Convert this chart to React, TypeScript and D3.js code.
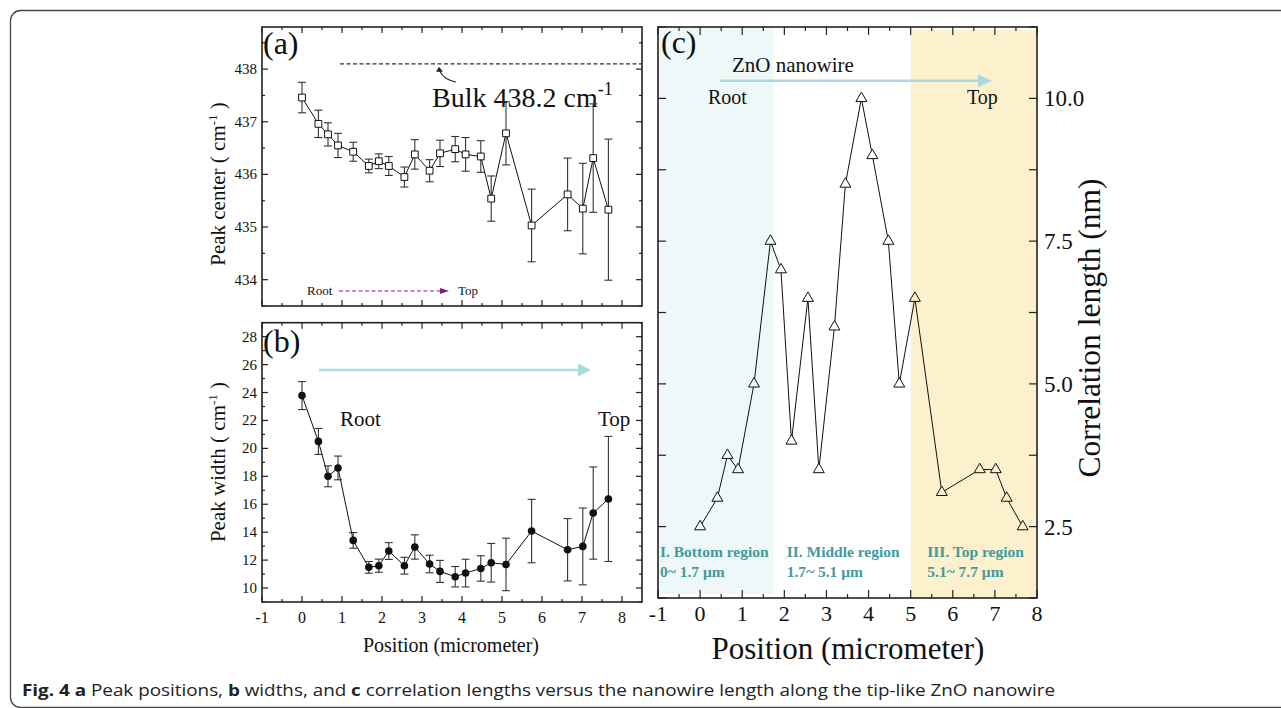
import React, { useEffect, useRef } from "react";
import * as d3 from "d3";

// positions along the wire (micrometer)
const positions = [0, 0.41, 0.65, 0.9, 1.28, 1.67, 1.92, 2.17, 2.56, 2.82, 3.19, 3.45, 3.83, 4.09, 4.47, 4.73, 5.1, 5.74, 6.64, 7.02, 7.28, 7.66];
// (a) peak center, cm-1
const peakCenter = [437.46, 436.96, 436.76, 436.55, 436.43, 436.16, 436.25, 436.16, 435.95, 436.38, 436.07, 436.4, 436.48, 436.38, 436.34, 435.54, 436.78, 435.03, 435.62, 435.35, 436.31, 435.33];
const peakCenterErr = [0.29, 0.26, 0.22, 0.23, 0.18, 0.13, 0.14, 0.18, 0.19, 0.28, 0.21, 0.25, 0.24, 0.32, 0.3, 0.43, 0.6, 0.69, 0.69, 0.86, 1.03, 1.34];
// (b) peak width, cm-1
const peakWidth = [23.78, 20.5, 18.0, 18.6, 13.41, 11.48, 11.6, 12.65, 11.6, 12.94, 11.72, 11.19, 10.81, 11.07, 11.4, 11.81, 11.69, 14.08, 12.74, 12.98, 15.37, 16.38];
const peakWidthErr = [1.0, 0.93, 0.75, 0.85, 0.56, 0.42, 0.47, 0.6, 0.6, 0.87, 0.63, 0.79, 0.73, 0.99, 0.91, 1.38, 1.88, 2.27, 2.23, 2.75, 3.3, 4.48];
// (c) correlation length, nm
const corrLength = [2.5, 3.0, 3.75, 3.5, 5.0, 7.5, 7.0, 4.0, 6.5, 3.5, 6.0, 8.5, 10.0, 9.0, 7.5, 5.0, 6.5, 3.1, 3.5, 3.5, 3.0, 2.5];

const xTickLabels = [-1, 0, 1, 2, 3, 4, 5, 6, 7, 8];
const centerTicks = [434, 435, 436, 437, 438];
const widthTicks = [10, 12, 14, 16, 18, 20, 22, 24, 26, 28];
const corrTicks = [2.5, 5.0, 7.5, 10.0];
const bulkCenter = 438.1;
const regionEdges = [1.74, 5.0];
const regionNames = ["I. Bottom region", "II. Middle region", "III. Top region"];
const regionRanges = ["0~ 1.7 \u03bcm", "1.7~ 5.1 \u03bcm", "5.1~ 7.7 \u03bcm"];

const SERIF = "'Liberation Serif', 'Times New Roman', serif";
const TEAL = "#439a9c";
const CYAN_BG = "#eff8f8";
const YELLOW_BG = "#fdf0cd";
const ARROW_BLUE = "#abd9e1";

// frame with inward ticks on all four sides
function drawFrame(g, x, y, o) {
  const [x0, x1] = x.range();
  const [y0, y1] = y.range();
  const t = g.append("g").attr("stroke", "#222").attr("stroke-width", 1.2);
  o.xMajor.forEach((v) => {
    t.append("line").attr("x1", x(v)).attr("x2", x(v)).attr("y1", y0).attr("y2", y0 - o.major);
    t.append("line").attr("x1", x(v)).attr("x2", x(v)).attr("y1", y1).attr("y2", y1 + o.major);
  });
  o.xMinor.forEach((v) => {
    t.append("line").attr("x1", x(v)).attr("x2", x(v)).attr("y1", y0).attr("y2", y0 - o.minor);
    t.append("line").attr("x1", x(v)).attr("x2", x(v)).attr("y1", y1).attr("y2", y1 + o.minor);
  });
  o.yMajor.forEach((v) => {
    t.append("line").attr("y1", y(v)).attr("y2", y(v)).attr("x1", x0).attr("x2", x0 + o.major);
    t.append("line").attr("y1", y(v)).attr("y2", y(v)).attr("x1", x1).attr("x2", x1 - o.major);
  });
  o.yMinor.forEach((v) => {
    t.append("line").attr("y1", y(v)).attr("y2", y(v)).attr("x1", x0).attr("x2", x0 + o.minor);
    t.append("line").attr("y1", y(v)).attr("y2", y(v)).attr("x1", x1).attr("x2", x1 - o.minor);
  });
  g.append("rect")
    .attr("x", x0).attr("y", y1)
    .attr("width", x1 - x0).attr("height", y0 - y1)
    .attr("fill", "none").attr("stroke", "#222").attr("stroke-width", 1.6);
}

function addText(g, x, y, str, size, extra = {}) {
  const t = g.append("text").attr("x", x).attr("y", y)
    .attr("font-family", SERIF).attr("font-size", size).attr("fill", "#111").text(str);
  Object.entries(extra).forEach(([k, v]) => t.attr(k, v));
  return t;
}

// rotated label like "Peak center ( cm-1 )"
function unitLabel(g, cx, cy, head, size) {
  const t = g.append("text")
    .attr("transform", `translate(${cx},${cy}) rotate(-90)`)
    .attr("text-anchor", "middle")
    .attr("font-family", SERIF).attr("font-size", size).attr("fill", "#111");
  t.append("tspan").text(head + " ( cm");
  t.append("tspan").attr("dy", -8).attr("font-size", size * 0.62).text("-1");
  t.append("tspan").attr("dy", 8).text(" )");
}

function errorPanel(g, x, y, vals, errs, kind) {
  const bars = g.append("g").attr("stroke", "#333").attr("stroke-width", 1.1);
  positions.forEach((p, i) => {
    const cx = x(p);
    const top = y(vals[i] + errs[i]);
    const bot = y(vals[i] - errs[i]);
    bars.append("line").attr("x1", cx).attr("x2", cx).attr("y1", top).attr("y2", bot);
    bars.append("line").attr("x1", cx - 4).attr("x2", cx + 4).attr("y1", top).attr("y2", top);
    bars.append("line").attr("x1", cx - 4).attr("x2", cx + 4).attr("y1", bot).attr("y2", bot);
  });
  const line = d3.line().x((d) => x(d[0])).y((d) => y(d[1]));
  g.append("path")
    .datum(positions.map((p, i) => [p, vals[i]]))
    .attr("d", line).attr("fill", "none").attr("stroke", "#111").attr("stroke-width", 1);
  if (kind === "square") {
    g.append("g").selectAll("path").data(positions).join("path")
      .attr("d", d3.symbol(d3.symbolSquare, 46)())
      .attr("transform", (p, i) => `translate(${x(p)},${y(vals[i])})`)
      .attr("fill", "#fff").attr("stroke", "#111").attr("stroke-width", 1);
  } else {
    g.append("g").selectAll("circle").data(positions).join("circle")
      .attr("cx", (p) => x(p)).attr("cy", (p, i) => y(vals[i]))
      .attr("r", 3.8).attr("fill", "#111");
  }
}

function arrow(g, xa, xb, yy, color, width, head, dash = null) {
  const l = g.append("line").attr("x1", xa).attr("x2", xb - head * 1.6).attr("y1", yy).attr("y2", yy)
    .attr("stroke", color).attr("stroke-width", width);
  if (dash) l.attr("stroke-dasharray", dash);
  return l;
}

export default function App() {
  const ref = useRef(null);

  useEffect(() => {
    const svg = d3.select(ref.current);
    svg.selectAll("*").remove();

    // outer rounded box
    svg.append("rect").attr("x", 10.5).attr("y", 10.5).attr("width", 1300).attr("height", 697)
      .attr("rx", 10).attr("fill", "none").attr("stroke", "#444").attr("stroke-width", 1.3);

    const x = d3.scaleLinear().domain([-1, 8.5]).range([262, 642]);
    const halfTicks = d3.range(-0.5, 8.5, 1);

    // ---------- (a) ----------
    const ya = d3.scaleLinear().domain([433.5, 438.8]).range([306, 27]);
    const ga = svg.append("g");
    drawFrame(ga, x, ya, {
      xMajor: d3.range(-1, 9, 1), xMinor: halfTicks,
      yMajor: centerTicks, yMinor: [433.5, 434.5, 435.5, 436.5, 437.5, 438.5],
      major: 6, minor: 3,
    });
    centerTicks.forEach((v) => addText(ga, 257, ya(v) + 5, String(v), 15, { "text-anchor": "end" }));
    unitLabel(ga, 225, 184, "Peak center", 21);
    addText(ga, 263, 54, "(a)", 32);
    ga.append("line").attr("x1", 340).attr("x2", 642).attr("y1", ya(bulkCenter)).attr("y2", ya(bulkCenter))
      .attr("stroke", "#333").attr("stroke-width", 1.1).attr("stroke-dasharray", "4,2.5");
    const bulk = addText(ga, 432, 107, "Bulk 438.2 cm", 28);
    bulk.append("tspan").attr("dy", -12).attr("font-size", 18).text("-1");
    ga.append("path").attr("d", `M456,82 Q444,80 439.5,${ya(bulkCenter) + 7}`)
      .attr("fill", "none").attr("stroke", "#222").attr("stroke-width", 1.1);
    ga.append("path").attr("d", `M436,${ya(bulkCenter) + 8} L439,${ya(bulkCenter) + 3} L443,${ya(bulkCenter) + 8} Z`)
      .attr("fill", "#222");
    errorPanel(ga, x, ya, peakCenter, peakCenterErr, "square");
    addText(ga, 307, 295, "Root", 13);
    arrow(ga, 339, 449, 291, "#c35bc3", 1.5, 5, "4,2.5");
    ga.append("path").attr("d", "M440,288 L449,291 L440,294 Z").attr("fill", "#7d1f7d");
    addText(ga, 458, 295, "Top", 13);

    // ---------- (b) ----------
    const yb = d3.scaleLinear().domain([9, 29]).range([602, 322.7]);
    const gb = svg.append("g");
    drawFrame(gb, x, yb, {
      xMajor: d3.range(-1, 9, 1), xMinor: halfTicks,
      yMajor: widthTicks, yMinor: d3.range(9, 30, 2),
      major: 6, minor: 3,
    });
    widthTicks.forEach((v) => addText(gb, 257, yb(v) + 5, String(v), 15, { "text-anchor": "end" }));
    xTickLabels.forEach((v) => addText(gb, x(v), 623, String(v), 16, { "text-anchor": "middle" }));
    addText(gb, 451, 652, "Position (micrometer)", 20, { "text-anchor": "middle" });
    unitLabel(gb, 225, 462, "Peak width", 21);
    addText(gb, 263, 352, "(b)", 32);
    arrow(gb, 319, 591, 370, ARROW_BLUE, 2.4, 7);
    gb.append("path").attr("d", "M578,363.5 L591,370 L578,376.5 Z").attr("fill", ARROW_BLUE);
    addText(gb, 340, 426, "Root", 21);
    addText(gb, 598, 426, "Top", 21);
    errorPanel(gb, x, yb, peakWidth, peakWidthErr, "circle");

    // ---------- (c) ----------
    const xc = d3.scaleLinear().domain([-1, 8]).range([658, 1037]);
    const yc = d3.scaleLinear().domain([1.25, 11.25]).range([598, 27]);
    const gc = svg.append("g");
    gc.append("rect").attr("x", xc(-1)).attr("y", 27).attr("width", xc(regionEdges[0]) - xc(-1)).attr("height", 567)
      .attr("fill", CYAN_BG);
    gc.append("rect").attr("x", xc(regionEdges[1])).attr("y", 30).attr("width", xc(8) - xc(regionEdges[1])).attr("height", 568)
      .attr("fill", YELLOW_BG);
    drawFrame(gc, xc, yc, {
      xMajor: d3.range(-1, 9, 1), xMinor: d3.range(-0.5, 8, 1),
      yMajor: d3.range(1.25, 11.3, 1.25), yMinor: [],
      major: 8, minor: 4,
    });
    corrTicks.forEach((v) => addText(gc, 1044, yc(v) + 8, v.toFixed(1), 23));
    xTickLabels.forEach((v) => addText(gc, xc(v), 621, String(v), 22, { "text-anchor": "middle" }));
    addText(gc, 848, 659, "Position (micrometer)", 31, { "text-anchor": "middle" });
    addText(gc, 0, 0, "Correlation length (nm)", 31.5, {
      "text-anchor": "middle", transform: "translate(1100,328) rotate(-90)",
    });
    addText(gc, 661, 53, "(c)", 32);
    addText(gc, 732, 72, "ZnO nanowire", 21);
    arrow(gc, 720, 992, 80.7, ARROW_BLUE, 2.4, 8);
    gc.append("path").attr("d", "M978,74.5 L992,80.7 L978,87 Z").attr("fill", ARROW_BLUE);
    addText(gc, 708, 104, "Root", 20);
    addText(gc, 967, 104, "Top", 20);

    const regionX = [660, 786.7, 927.3];
    regionNames.forEach((name, i) => {
      addText(gc, regionX[i], 557, name, 15.5, { "font-weight": "bold", fill: TEAL });
      addText(gc, regionX[i], 577, regionRanges[i], 15.5, { "font-weight": "bold", fill: TEAL });
    });

    const lc = d3.line().x((d) => xc(d[0])).y((d) => yc(d[1]));
    gc.append("path")
      .datum(positions.map((p, i) => [p, corrLength[i]]))
      .attr("d", lc).attr("fill", "none").attr("stroke", "#111").attr("stroke-width", 1);
    gc.append("g").selectAll("path").data(positions).join("path")
      .attr("d", d3.symbol(d3.symbolTriangle, 52)())
      .attr("transform", (p, i) => `translate(${xc(p)},${yc(corrLength[i])})`)
      .attr("fill", (p) => (p < regionEdges[0] ? CYAN_BG : p >= regionEdges[1] ? YELLOW_BG : "#fff"))
      .attr("stroke", "#111").attr("stroke-width", 1);

    // caption
    const cap = svg.append("text").attr("x", 22).attr("y", 696)
      .attr("font-family", "'Open Sans', 'Noto Sans', sans-serif").attr("font-size", 16.5).attr("fill", "#222")
      .attr("textLength", 1033).attr("lengthAdjust", "spacingAndGlyphs");
    cap.append("tspan").attr("font-weight", "bold").text("Fig. 4 a");
    cap.append("tspan").text(" Peak positions, ");
    cap.append("tspan").attr("font-weight", "bold").text("b");
    cap.append("tspan").text(" widths, and ");
    cap.append("tspan").attr("font-weight", "bold").text("c");
    cap.append("tspan").text(" correlation lengths versus the nanowire length along the tip-like ZnO nanowire");
  }, []);

  return (
    <svg
      ref={ref}
      width={1281}
      height={708}
      style={{ position: "absolute", left: 0, top: 0, background: "#fff" }}
    />
  );
}
